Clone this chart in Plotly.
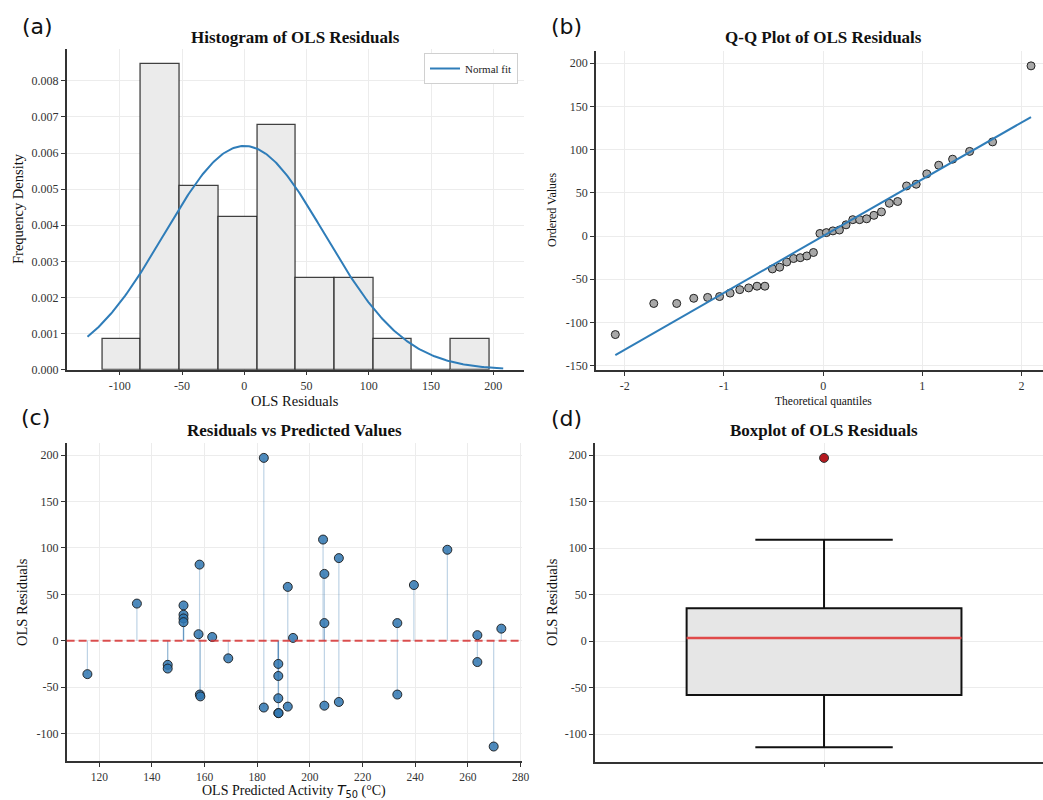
import numpy as np
import plotly.graph_objects as go
from statistics import NormalDist

# ---------------- data ----------------
predicted = [115.5, 134.3, 146.0, 146.0, 152.0, 152.0, 152.0, 152.0, 158.1, 157.7,
             158.2, 158.4, 162.9, 169.0, 182.5, 182.5, 188.0, 188.0, 188.0, 188.0,
             188.1, 191.6, 191.6, 193.6, 205.0, 205.5, 205.5, 205.5, 211.0, 211.0,
             233.2, 233.2, 239.5, 252.2, 263.6, 263.6, 269.8, 272.7]
residuals = [-36, 40, -26, -30, 38, 28, 24, 20, 82, 7,
             -58, -60, 4, -19, 197, -72, -25, -38, -62, -78,
             -78, 58, -71, 3, 109, 72, 19, -70, 89, -66,
             19, -58, 60, 98, 6, -23, -114, 13]
hist_bins = 10
curve_range = [-126, 208]

hist_xticks = [-100, -50, 0, 50, 100, 150, 200]
hist_yticks = [0, 0.001, 0.002, 0.003, 0.004, 0.005, 0.006, 0.007, 0.008]
qq_xticks = [-2, -1, 0, 1, 2]
res_ticks = [-150, -100, -50, 0, 50, 100, 150, 200]
pred_ticks = [120, 140, 160, 180, 200, 220, 240, 260, 280]

# ---------------- derived ----------------
W, H = 1043, 800
def dx(a, b):
    return [a / W, b / W]
def dy(top, bottom):
    return [1 - bottom / H, 1 - top / H]
def lab(v):
    return [str(t) for t in v]

res = np.array(residuals, float)
pred = np.array(predicted, float)
n = len(res)

counts, edges = np.histogram(res, bins=hist_bins)
dens = counts / (n * np.diff(edges))
centers = (edges[:-1] + edges[1:]) / 2
mu, sd = res.mean(), res.std()
xc = np.linspace(curve_range[0], curve_range[1], 300)
yc = np.exp(-0.5 * ((xc - mu) / sd) ** 2) / (sd * np.sqrt(2 * np.pi))

osr = np.sort(res)
m = np.empty(n)
m[-1] = 0.5 ** (1 / n)
m[0] = 1 - m[-1]
idx = np.arange(2, n)
m[1:-1] = (idx - 0.3175) / (n + 0.365)
nd = NormalDist()
osm = np.array([nd.inv_cdf(p) for p in m])
slope, intercept = np.polyfit(osm, osr, 1)

q1, med, q3 = np.percentile(res, [25, 50, 75])
iqr = q3 - q1
lo_fence = res[res >= q1 - 1.5 * iqr].min()
hi_fence = res[res <= q3 + 1.5 * iqr].max()
outliers = res[(res < lo_fence) | (res > hi_fence)]
box_w = 0.6

SERIF = "Liberation Serif"
BLUE = "#2f7db9"

fig = go.Figure()

# (a) histogram
fig.add_trace(go.Bar(x=centers, y=dens, width=np.diff(edges),
                     marker=dict(color="#ebebeb", line=dict(color="rgba(20,20,20,0.8)", width=1.3)),
                     showlegend=False, xaxis="x", yaxis="y"))
fig.add_trace(go.Scatter(x=xc, y=yc, mode="lines", name="Normal fit",
                         line=dict(color=BLUE, width=2), xaxis="x", yaxis="y"))

# (b) QQ
fig.add_trace(go.Scatter(x=osm, y=osr, mode="markers", showlegend=False,
                         marker=dict(size=8, color="#a8a8a8", line=dict(color="#222", width=1)),
                         xaxis="x2", yaxis="y2"))
fig.add_trace(go.Scatter(x=osm, y=slope * osm + intercept, mode="lines", showlegend=False,
                         line=dict(color=BLUE, width=2), xaxis="x2", yaxis="y2"))

# (c) residuals vs predicted
sx, sy = [], []
for p, r in zip(pred, res):
    sx += [p, p, None]
    sy += [0, r, None]
fig.add_trace(go.Scatter(x=sx, y=sy, mode="lines", showlegend=False,
                         line=dict(color="rgba(70,130,180,0.35)", width=1.2),
                         xaxis="x3", yaxis="y3"))
fig.add_trace(go.Scatter(x=pred, y=res, mode="markers", showlegend=False,
                         marker=dict(size=9, color="rgba(47,118,176,0.85)",
                                     line=dict(color="#1a1a1a", width=0.9)),
                         xaxis="x3", yaxis="y3"))
fig.add_shape(type="line", xref="x3 domain", yref="y3", x0=0, x1=1, y0=0, y1=0,
              line=dict(color="rgba(214,50,50,0.85)", width=2, dash="8px,4px"))

# (d) boxplot
fig.add_trace(go.Box(x=[1], q1=[q1], median=[med], q3=[q3], lowerfence=[lo_fence],
                     upperfence=[hi_fence], width=box_w, whiskerwidth=0.5,
                     fillcolor="#e6e6e6", line=dict(color="#111", width=2),
                     showlegend=False, hoverinfo="skip", xaxis="x4", yaxis="y4"))
fig.add_trace(go.Scatter(x=[1 - box_w / 2, 1 + box_w / 2], y=[med, med], mode="lines",
                         line=dict(color="#e04a4a", width=2.5), showlegend=False,
                         xaxis="x4", yaxis="y4"))
fig.add_trace(go.Scatter(x=[1] * len(outliers), y=outliers, mode="markers", showlegend=False,
                         marker=dict(size=9, color="#b5191f", line=dict(color="#333", width=1)),
                         xaxis="x4", yaxis="y4"))

axis_common = dict(showline=True, linecolor="#333", linewidth=1.5, ticks="outside",
                   ticklen=4, tickwidth=1.2, tickcolor="#333", showgrid=True,
                   gridcolor="#ececec", gridwidth=0.8, zeroline=False, automargin=False,
                   tickfont=dict(family=SERIF, size=12, color="#333"))

fig.update_layout(
    width=W, height=H, margin=dict(l=0, r=0, t=0, b=0, pad=0, autoexpand=False),
    plot_bgcolor="white", paper_bgcolor="white", bargap=0,
    font=dict(family=SERIF, color="#222"),
    xaxis=dict(domain=dx(66.7, 524), range=[-142.7, 224.7], anchor="y",
               tickvals=hist_xticks, ticktext=lab(hist_xticks), **axis_common),
    yaxis=dict(domain=dy(49, 369.7), range=[0, 0.00888], anchor="x",
               tickvals=hist_yticks, ticktext=[f"{t:.3f}" for t in hist_yticks], **axis_common),
    xaxis2=dict(domain=dx(596, 1043), range=[-2.29, 2.216], anchor="y2",
                tickvals=qq_xticks, ticktext=lab(qq_xticks), **axis_common),
    yaxis2=dict(domain=dy(51, 370), range=[-155, 214.2], anchor="x2",
                tickvals=res_ticks, ticktext=lab(res_ticks), **axis_common),
    xaxis3=dict(domain=dx(66.6, 521.6), range=[107.6, 280.4], anchor="y3",
                tickvals=pred_ticks, ticktext=lab(pred_ticks),
                **{**axis_common, "tickfont": dict(family=SERIF, size=11.5, color="#333")}),
    yaxis3=dict(domain=dy(443.4, 761), range=[-129.6, 212.6], anchor="x3",
                tickvals=res_ticks[1:], ticktext=lab(res_ticks[1:]), **axis_common),
    xaxis4=dict(domain=dx(595, 1043), range=[0.5, 1.478], anchor="y4",
                tickvals=[1], showticklabels=False, **axis_common),
    yaxis4=dict(domain=dy(443.4, 761.7), range=[-129.6, 212.6], anchor="x4",
                tickvals=res_ticks[1:], ticktext=lab(res_ticks[1:]), **axis_common),
    legend=dict(x=518 / W, y=1 - 53 / H, xanchor="right", yanchor="top",
                bgcolor="white", bordercolor="#d0d0d0", borderwidth=1,
                itemwidth=30, tracegroupgap=0,
                font=dict(family=SERIF, size=11, color="#222")),
)

def ann(text, xpx, ypx, size, angle=0, family=SERIF, bold=False, xanchor="center"):
    fig.add_annotation(text=f"<b>{text}</b>" if bold else text, x=xpx / W, y=1 - ypx / H,
                       xref="paper", yref="paper", showarrow=False, textangle=angle,
                       xanchor=xanchor, yanchor="middle",
                       font=dict(family=family, size=size, color="#111"))

# panel labels
ann("(a)", 20, 27, 22, family="DejaVu Sans", xanchor="left")
ann("(b)", 549, 27, 22, family="DejaVu Sans", xanchor="left")
ann("(c)", 19, 417, 22, family="DejaVu Sans", xanchor="left")
ann("(d)", 549, 418, 22, family="DejaVu Sans", xanchor="left")

# titles
ann("Histogram of OLS Residuals", 295, 38, 17, bold=True)
ann("Q-Q Plot of OLS Residuals", 823.5, 38, 17, bold=True)
ann("Residuals vs Predicted Values", 294, 430, 17, bold=True)
ann("Boxplot of OLS Residuals", 824, 430, 17, bold=True)

# axis titles
ann("OLS Residuals", 295, 401, 14.5)
ann("Frequency Density", 18, 209, 14.5, angle=-90)
ann("Theoretical quantiles", 823.5, 401, 11.5)
ann("Ordered Values", 552, 210, 12, angle=-90)
ann("OLS Predicted Activity <span style='font-family:DejaVu Sans'><i>T</i><sub>50</sub></span> (°C)",
    294, 791, 14)
ann("OLS Residuals", 22, 602, 14.5, angle=-90)
ann("OLS Residuals", 552, 602, 14.5, angle=-90)

fig.write_html("out.html", config={"displayModeBar": False},
               post_script="document.body.style.margin='0';document.body.style.overflow='hidden';")
